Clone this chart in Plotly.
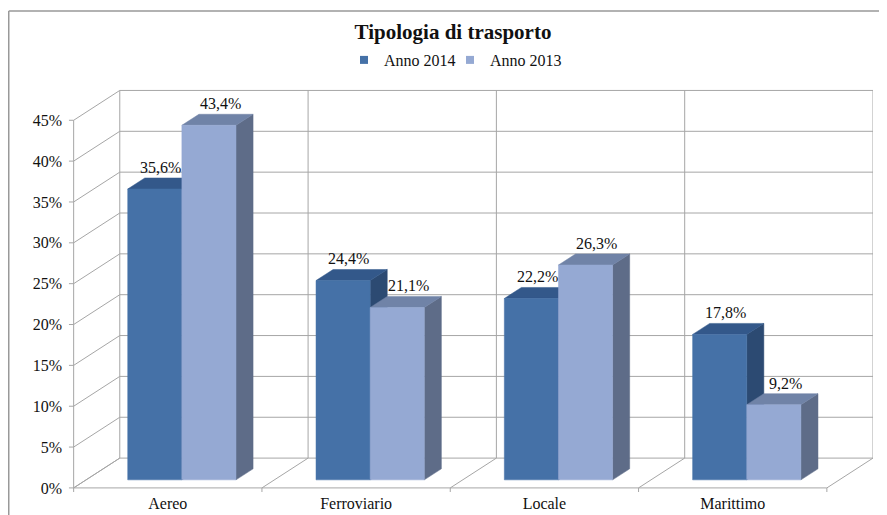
import plotly.graph_objects as go

categories = ["Aereo", "Ferroviario", "Locale", "Marittimo"]
anno_2014 = [35.6, 24.4, 22.2, 17.8]
anno_2013 = [43.4, 21.1, 26.3, 9.2]
series_names = ["Anno 2014", "Anno 2013"]
y_ticks = [0, 5, 10, 15, 20, 25, 30, 35, 40, 45]

# styling / projection
DX, DY = 0.245, 3.65          # oblique depth offset (x in category units, y in %)
YMAX = 45
D0, D1 = 0.27, 0.64           # bar depth span
BAR_L, BAR_W = 0.221, 0.2875  # bar position within category
GRID = "#a6a6a6"
FACE = {"Anno 2014": ("#4571a7", "#33588a", "#2c4a72"),
        "Anno 2013": ("#95a9d3", "#7083a7", "#5e6c88")}
FONT = "'Liberation Serif', 'Times New Roman', 'DejaVu Serif', serif"

# page body adds an 8px offset; figure is sized to fit the window
W, H = 879, 507
ML, MR, MT, MB = 60, 14, 80, 23
PW, PH = W - ML - MR, H - MT - MB


def P(x, v, d):
    return x + d * DX, v + d * DY


fig = go.Figure()

# legend entries (plus an empty spacer so the last label is not clipped)
for name in series_names:
    fig.add_trace(go.Scatter(x=[None], y=[None], mode="markers", name=name,
                             marker=dict(symbol="square", size=8, color=FACE[name][0]),
                             hoverinfo="skip"))
fig.add_trace(go.Scatter(x=[None], y=[None], mode="markers", name=" ",
                         marker=dict(symbol="square", size=8, color="rgba(0,0,0,0)"),
                         hoverinfo="skip"))

# grid: walls and floor
gx, gy = [], []
def seg(a, b):
    gx.extend([a[0], b[0], None]); gy.extend([a[1], b[1], None])

n = len(categories)
for t in y_ticks:
    seg(P(0, t, 0), P(0, t, 1))          # left wall diagonal
    seg(P(0, t, 1), P(n, t, 1))          # back wall horizontal
    seg(P(0, t, 0), P(-0.025, t, 0))     # tick marks
seg(P(0, 0, 0), P(0, YMAX, 0))           # front vertical axis
seg(P(0, 0, 1), P(0, YMAX, 1))           # back left vertical
for k in range(1, n + 1):
    seg(P(k, 0, 1), P(k, YMAX, 1))       # back wall verticals
for k in range(0, n + 1):
    seg(P(k, 0, 0), P(k, 0, 1))          # floor diagonals
    seg(P(k, 0, 0), P(k, -0.6, 0))       # floor ticks
seg(P(0, 0, 0), P(n, 0, 0))              # floor front edge
fig.add_trace(go.Scatter(x=gx, y=gy, mode="lines", line=dict(color=GRID, width=1),
                         showlegend=False, hoverinfo="skip"))


def poly(pts, color):
    xs = [p[0] for p in pts] + [pts[0][0]]
    ys = [p[1] for p in pts] + [pts[0][1]]
    fig.add_trace(go.Scatter(x=xs, y=ys, mode="lines", fill="toself", fillcolor=color,
                             line=dict(color=color, width=0.5), showlegend=False,
                             hoverinfo="skip"))


annotations = []
for i in range(n):
    for s, (name, vals) in enumerate(zip(series_names, [anno_2014, anno_2013])):
        v = vals[i]
        x0 = i + BAR_L + s * BAR_W
        x1 = x0 + BAR_W
        front, top, side = FACE[name]
        poly([P(x1, 0, D0), P(x1, 0, D1), P(x1, v, D1), P(x1, v, D0)], side)
        poly([P(x0, v, D0), P(x1, v, D0), P(x1, v, D1), P(x0, v, D1)], top)
        poly([P(x0, 0, D0), P(x1, 0, D0), P(x1, v, D0), P(x0, v, D0)], front)
        lx = P((x0 + x1) / 2, v, D0)[0] + 0.03 + 0.03 * s
        ly = P(x0, v, D1)[1]
        annotations.append(dict(x=lx, y=ly, text=f"{v:.1f}%".replace(".", ","),
                                showarrow=False, yanchor="bottom", yshift=0,
                                font=dict(family=FONT, size=16, color="#111")))

fig.update_layout(
    width=W, height=H,
    margin=dict(l=ML, r=MR, t=MT, b=MB, autoexpand=False),
    paper_bgcolor="white", plot_bgcolor="white",
    title=dict(text="<b>Tipologia di trasporto</b>", x=445 / W, xanchor="center",
               y=1 - 24 / H, yanchor="middle", yref="container", xref="container",
               font=dict(family=FONT, size=21, color="#111")),
    legend=dict(orientation="h", xref="container", yref="container",
                x=495 / W, xanchor="center", y=1 - 52 / H, yanchor="middle",
                font=dict(family=FONT, size=16, color="#111"),
                itemwidth=30, tracegroupgap=0, entrywidth=61, entrywidthmode="pixels"),
    xaxis=dict(range=[-0.03, n + DX], showgrid=False, zeroline=False, showline=False,
               tickvals=[k + 0.5 for k in range(n)], ticktext=categories, ticks="",
               automargin=False,
               tickfont=dict(family=FONT, size=16, color="#111"), fixedrange=True),
    yaxis=dict(range=[-0.5, YMAX + DY + 0.3], showgrid=False, zeroline=False,
               showline=False, tickvals=y_ticks, ticktext=[f"{t}%" for t in y_ticks],
               ticks="", ticklabelstandoff=5, automargin=False,
               tickfont=dict(family=FONT, size=16, color="#111"), fixedrange=True),
    annotations=annotations,
    shapes=[
        dict(type="line", xref="paper", yref="paper", x0=(0.75 - ML) / PW, x1=1.2,
             y0=(PH + MT - 3) / PH, y1=(PH + MT - 3) / PH,
             line=dict(color="#999", width=1.5)),
        dict(type="line", xref="paper", yref="paper", x0=(0.75 - ML) / PW, x1=(0.75 - ML) / PW,
             y0=-0.2, y1=(PH + MT - 3) / PH, line=dict(color="#999", width=1.5)),
    ],
)

fig.write_html("out.html")
